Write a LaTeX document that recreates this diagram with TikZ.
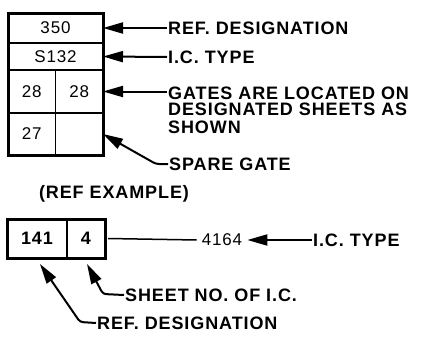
\documentclass[tikz,border=0pt]{standalone}
\usepackage{fontspec}
\setmainfont{Liberation Sans}
\newfontfamily\lettering[LetterSpace=5]{Liberation Sans}
\newcommand\tagfont{\lettering\bfseries\fontsize{18}{16}\selectfont}
\newcommand\cellfont{\lettering\fontsize{17}{17}\selectfont}
\usetikzlibrary{arrows.meta,positioning}

\begin{document}
\begin{tikzpicture}[x=1pt, y=-1pt, node distance=0pt,
  cell/.style={draw, line width=1.6pt, inner sep=0pt, outer sep=0pt, font=\cellfont},
  frame/.style={line width=3pt},
  tag/.style={anchor=west, inner sep=1pt, font=\tagfont},
  ptr/.style={line width=2pt, -{Triangle[length=20pt,width=11pt]}}]
  \useasboundingbox (0,0) rectangle (440,348);

  % legend box
  \node[cell, minimum width=95pt, minimum height=30pt] (c350) at (55.5,28) {350};
  \node[cell, minimum width=95pt, minimum height=27pt, below=of c350] (cS132) {S132};
  \node[cell, minimum width=47.5pt, minimum height=43pt, anchor=north west] (g1) at (cS132.south west) {28};
  \node[cell, minimum width=47.5pt, minimum height=43pt, right=of g1] (g2) {28};
  \node[cell, minimum width=47.5pt, minimum height=42pt, below=of g1] (g3) {27};
  \node[cell, minimum width=47.5pt, minimum height=42pt, right=of g3] (g4) {};
  \draw[frame] (c350.north west) rectangle (g4.south east);

  \node[tag] (ref) at (167,28) {REF. DESIGNATION};
  \node[tag] (ictype) at (167,57) {I.C. TYPE};
  \node[tag, anchor=north west, align=left] (gates) at (167,86)
    {GATES ARE LOCATED ON\\DESIGNATED SHEETS AS\\[2pt]SHOWN};
  \node[tag] (spare) at (168,164) {SPARE GATE};
  \coordinate (sparebend) at (156,164);

  \draw[ptr] (ref.west) -- (c350.east);
  \draw[ptr] (ictype.west) -- (cS132.east);
  \draw[ptr] (gates.west |- g2.east) -- (g2.east);
  \draw[ptr, rounded corners=3pt] (spare.west) -- (sparebend) -- (g4.east);

  % example
  \node[font=\tagfont] (example) at (114,194) {(REF EXAMPLE)};
  \node[cell, font=\tagfont, minimum width=60pt, minimum height=39pt] (e141) at (37,238.5) {141};
  \node[cell, font=\tagfont, minimum width=38pt, minimum height=39pt, right=of e141] (e4) {4};
  \draw[frame] (e141.north west) rectangle (e4.south east);

  \node[font=\cellfont, inner sep=5pt] (num) at (222,240) {4164};
  \node[tag] (ictype2) at (312,240) {I.C. TYPE};
  \node[tag] (sheet) at (124,295) {SHEET NO. OF I.C.};
  \coordinate (sheetbend) at (103,294);
  \node[tag] (ref2) at (96,323) {REF. DESIGNATION};
  \coordinate (refbend) at (80,322);

  \draw[line width=1.5pt] ([xshift=3pt]e4.east) -- (num.west);
  \draw[ptr] (ictype2.west) -- (num.east);
  \draw[ptr, rounded corners=3pt] (sheet.west) -- (sheetbend) -- ([xshift=1pt,yshift=-6pt]e4.south);
  \draw[ptr, rounded corners=3pt] (ref2.west) -- (refbend) -- ([xshift=3pt,yshift=-6pt]e141.south);
\end{tikzpicture}
\end{document}
